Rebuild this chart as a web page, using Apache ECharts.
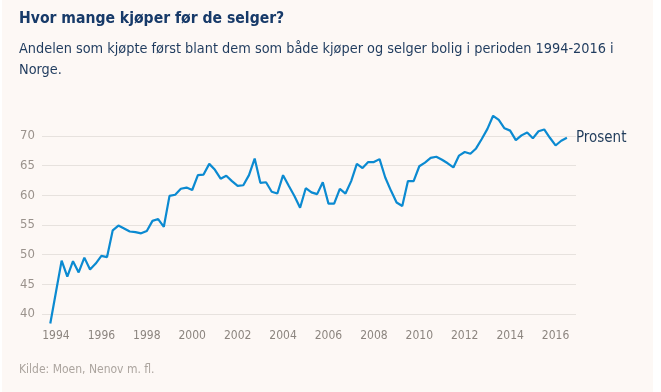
<!DOCTYPE html>
<html><head><meta charset="utf-8">
<script src="https://cdn.jsdelivr.net/npm/echarts@6/dist/echarts.min.js"></script>
<style>
html,body{margin:0;padding:0;background:#ffffff;}
#c{position:absolute;left:2px;top:0;width:651px;height:392px;background:#fdf8f5;}
</style>
</head><body><div id="c"></div>
<script>
const quarters = [
  "1993K4",
  "1994K1","1994K2","1994K3","1994K4","1995K1","1995K2","1995K3","1995K4",
  "1996K1","1996K2","1996K3","1996K4","1997K1","1997K2","1997K3","1997K4",
  "1998K1","1998K2","1998K3","1998K4","1999K1","1999K2","1999K3","1999K4",
  "2000K1","2000K2","2000K3","2000K4","2001K1","2001K2","2001K3","2001K4",
  "2002K1","2002K2","2002K3","2002K4","2003K1","2003K2","2003K3","2003K4",
  "2004K1","2004K2","2004K3","2004K4","2005K1","2005K2","2005K3","2005K4",
  "2006K1","2006K2","2006K3","2006K4","2007K1","2007K2","2007K3","2007K4",
  "2008K1","2008K2","2008K3","2008K4","2009K1","2009K2","2009K3","2009K4",
  "2010K1","2010K2","2010K3","2010K4","2011K1","2011K2","2011K3","2011K4",
  "2012K1","2012K2","2012K3","2012K4","2013K1","2013K2","2013K3","2013K4",
  "2014K1","2014K2","2014K3","2014K4","2015K1","2015K2","2015K3","2015K4",
  "2016K1","2016K2","2016K3"
];
const andel = [
  38.4, 43.7, 49.0, 46.3, 48.9, 47.0, 49.5, 47.5, 48.5, 49.8,
  49.6, 54.1, 54.9, 54.4, 53.9, 53.8, 53.6, 54.0, 55.7, 56.0,
  54.7, 59.9, 60.1, 61.1, 61.3, 60.9, 63.4, 63.5, 65.3, 64.3,
  62.8, 63.3, 62.4, 61.6, 61.7, 63.4, 66.2, 62.1, 62.2, 60.6,
  60.3, 63.4, 61.6, 59.9, 57.9, 61.2, 60.5, 60.2, 62.2, 58.6,
  58.6, 61.1, 60.3, 62.4, 65.3, 64.6, 65.6, 65.6, 66.1, 63.0,
  60.8, 58.8, 58.2, 62.4, 62.4, 64.9, 65.5, 66.3, 66.5, 66.0,
  65.4, 64.7, 66.7, 67.3, 67.0, 67.9, 69.5, 71.2, 73.4, 72.7,
  71.3, 70.9, 69.3, 70.1, 70.6, 69.6, 70.8, 71.1, 69.7, 68.4,
  69.2, 69.7
];
const xTickLabels = [1994,1996,1998,2000,2002,2004,2006,2008,2010,2012,2014,2016];
const yTickLabels = [40,45,50,55,60,65,70];

const titleText = "Hvor mange kjøper før de selger?";
const subtitleText = "Andelen som kjøpte først blant dem som både kjøper og selger bolig i perioden 1994-2016 i\nNorge.";
const sourceText = "Kilde: Moen, Nenov m. fl.";
const seriesLabel = "Prosent";

function quarterToYear(q){
  return parseInt(q.slice(0,4),10) + (parseInt(q.slice(5),10)-1)/4;
}
const seriesData = quarters.map((q,i)=>[quarterToYear(q), andel[i]]);

const FN = '"Liberation Sans Narrow","DejaVu Sans Condensed","Liberation Sans",sans-serif';
const chart = echarts.init(document.getElementById('c'), null, {renderer:'canvas'});
chart.setOption({
  animation:false,
  backgroundColor:'#fdf8f5',
  title:[
    {text:titleText,left:12,top:6,padding:5,textStyle:{fontFamily:FN,fontSize:15.6,fontWeight:'bold',color:'#173a69'}},
    {text:subtitleText,left:12,top:34,padding:5,textStyle:{fontFamily:FN,fontSize:14.35,fontWeight:'normal',color:'#1f3b5e',lineHeight:21}},
    {text:sourceText,left:12,top:359,padding:5,textStyle:{fontFamily:FN,fontSize:12,fontWeight:'normal',color:'#aca59f'}}
  ],
  grid:{left:40,width:534,top:106.3,height:237.4,containLabel:false},
  xAxis:{
    type:'value',min:1993.385,max:2016.9,
    offset:-22,
    axisLine:{show:false},axisTick:{show:false},splitLine:{show:false},
    axisLabel:{customValues:xTickLabels,formatter:v=>String(Math.round(v)),color:'#8c857f',fontSize:12,fontFamily:FN,margin:8}
  },
  yAxis:{
    type:'value',min:35,max:75,interval:5,
    axisLine:{show:false},axisTick:{show:false},
    splitLine:{show:true,showMinLine:false,showMaxLine:false,lineStyle:{color:'#e7e2de',width:1}},
    axisLabel:{formatter:v=>(yTickLabels.indexOf(v)>=0?String(v):''),color:'#9a928c',fontSize:13,fontFamily:FN,margin:7}
  },
  series:[{
    type:'line',data:seriesData,showSymbol:false,
    lineStyle:{color:'#0b8ad1',width:2.2},
    itemStyle:{color:'#0b8ad1'},
    endLabel:{show:true,formatter:seriesLabel,color:'#1f3b5a',fontSize:15,fontFamily:FN,distance:9}
  }]
});
</script>
</body></html>
